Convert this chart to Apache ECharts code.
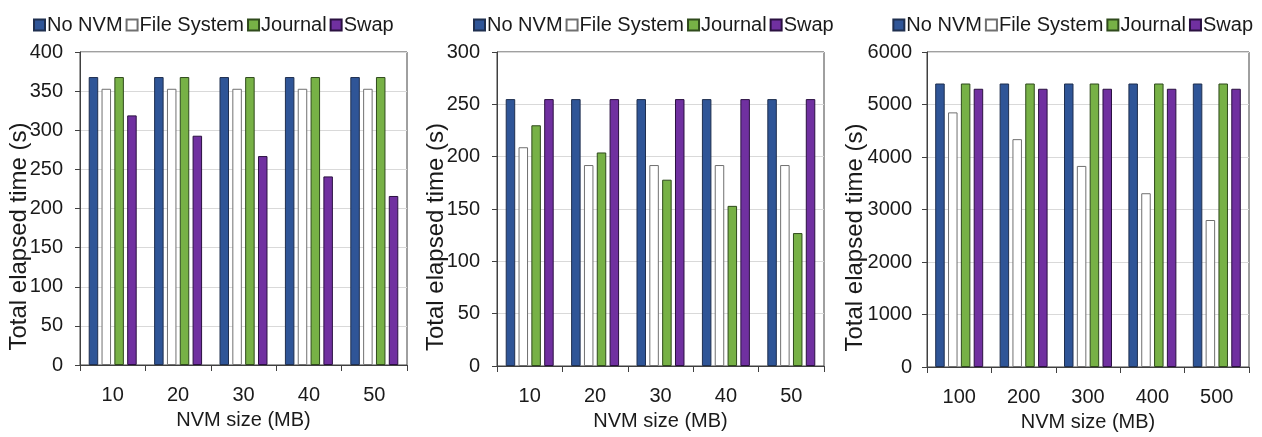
<!DOCTYPE html>
<html>
<head>
<meta charset="utf-8">
<script src="https://cdn.jsdelivr.net/npm/echarts@6/dist/echarts.min.js"></script>
<style>
html,body{margin:0;padding:0;background:#fff;}
#c{width:1262px;height:437px;}
</style>
</head>
<body>
<div id="c"></div>
<script>
// ---- data ----
const seriesNames = ['No NVM', 'File System', 'Journal', 'Swap'];
const cats1 = ['10', '20', '30', '40', '50'];
const cats2 = ['10', '20', '30', '40', '50'];
const cats3 = ['100', '200', '300', '400', '500'];

const c1NoNVM   = [368, 368, 368, 368, 368];
const c1FileSys = [353, 353, 353, 353, 353];
const c1Journal = [368, 368, 368, 368, 368];
const c1Swap    = [319, 293, 267, 241, 216];

const c2NoNVM   = [255, 255, 255, 255, 255];
const c2FileSys = [209, 192, 192, 192, 192];
const c2Journal = [230, 204, 178, 153, 127];
const c2Swap    = [255, 255, 255, 255, 255];

const c3NoNVM   = [5400, 5400, 5400, 5400, 5400];
const c3FileSys = [4850, 4340, 3830, 3310, 2800];
const c3Journal = [5400, 5400, 5400, 5400, 5400];
const c3Swap    = [5300, 5300, 5300, 5300, 5300];

const yMax = [400, 300, 6000];
const yStep = [50, 50, 1000];

// ---- styles ----
const FONT = "'Liberation Sans', Arial, sans-serif";
const TXT = '#1a1a1a';
const colors = ['#2f5597', '#ffffff', '#77b146', '#7030a0'];
const borders = ['#1f2f4f', '#707070', '#2f4a1c', '#2a1040'];

const grids = [
  {left: 80, width: 327, top: 52, bottom: 72},
  {left: 497, width: 327, top: 52, bottom: 71},
  {left: 927, width: 322, top: 52, bottom: 69}
];
const legendPos = [{left: 28}, {left: 468}, {right: 4}];
const cats = [cats1, cats2, cats3];
const data = [
  [c1NoNVM, c1FileSys, c1Journal, c1Swap],
  [c2NoNVM, c2FileSys, c2Journal, c2Swap],
  [c3NoNVM, c3FileSys, c3Journal, c3Swap]
];

const option = {
  animation: false,
  backgroundColor: '#fff',
  textStyle: {fontFamily: FONT},
  grid: grids.map(g => Object.assign({show: true, borderColor: '#404040', borderWidth: 1, backgroundColor: 'transparent'}, g)),
  legend: legendPos.map((p) => Object.assign({
    top: 10,
    data: seriesNames,
    icon: 'rect',
    itemWidth: 11, itemHeight: 11, itemGap: 3,
    textStyle: {fontSize: 20, color: TXT, fontFamily: FONT, padding: [0, 0, 0, -3]},
    selectedMode: false
  }, p)),
  xAxis: cats.map((c, i) => ({
    type: 'category', gridIndex: i, data: c,
    name: 'NVM size (MB)', nameLocation: 'middle', nameGap: 45,
    nameMoveOverlap: false,
    nameTextStyle: {fontSize: 20, color: TXT, fontFamily: FONT},
    axisLine: {lineStyle: {color: '#404040', width: 1}},
    axisTick: {show: true, length: 6, lineStyle: {color: '#404040'}},
    axisLabel: {fontSize: 20, color: TXT, margin: 20, fontFamily: FONT}
  })),
  yAxis: yMax.map((m, i) => ({
    type: 'value', gridIndex: i, min: 0, max: m, interval: yStep[i],
    name: 'Total elapsed time (s)', nameLocation: 'middle', nameRotate: 90,
    nameGap: i === 2 ? 60 : 49,
    nameMoveOverlap: false,
    nameTextStyle: {fontSize: 24, color: TXT, fontFamily: FONT, padding: [0, 56, 0, 0]},
    axisLine: {show: true, lineStyle: {color: '#404040', width: 1}},
    axisTick: {show: true, length: 5, lineStyle: {color: '#404040'}},
    axisLabel: {fontSize: 20, color: TXT, margin: i === 2 ? 15 : 17, fontFamily: FONT,
                formatter: v => String(v)},
    splitLine: {show: true, lineStyle: {color: '#d9d9d9', width: 1}}
  })),
  series: []
};

data.forEach((arrs, gi) => {
  arrs.forEach((vals, si) => {
    option.series.push({
      type: 'bar', name: seriesNames[si],
      xAxisIndex: gi, yAxisIndex: gi,
      data: vals,
      barWidth: 9.5,
      barGap: '35%',
      itemStyle: {color: colors[si], borderColor: borders[si], borderWidth: 1}
    });
  });
});

const chart = echarts.init(document.getElementById('c'), null, {renderer: 'canvas'});
chart.setOption(option);
</script>
</body>
</html>
